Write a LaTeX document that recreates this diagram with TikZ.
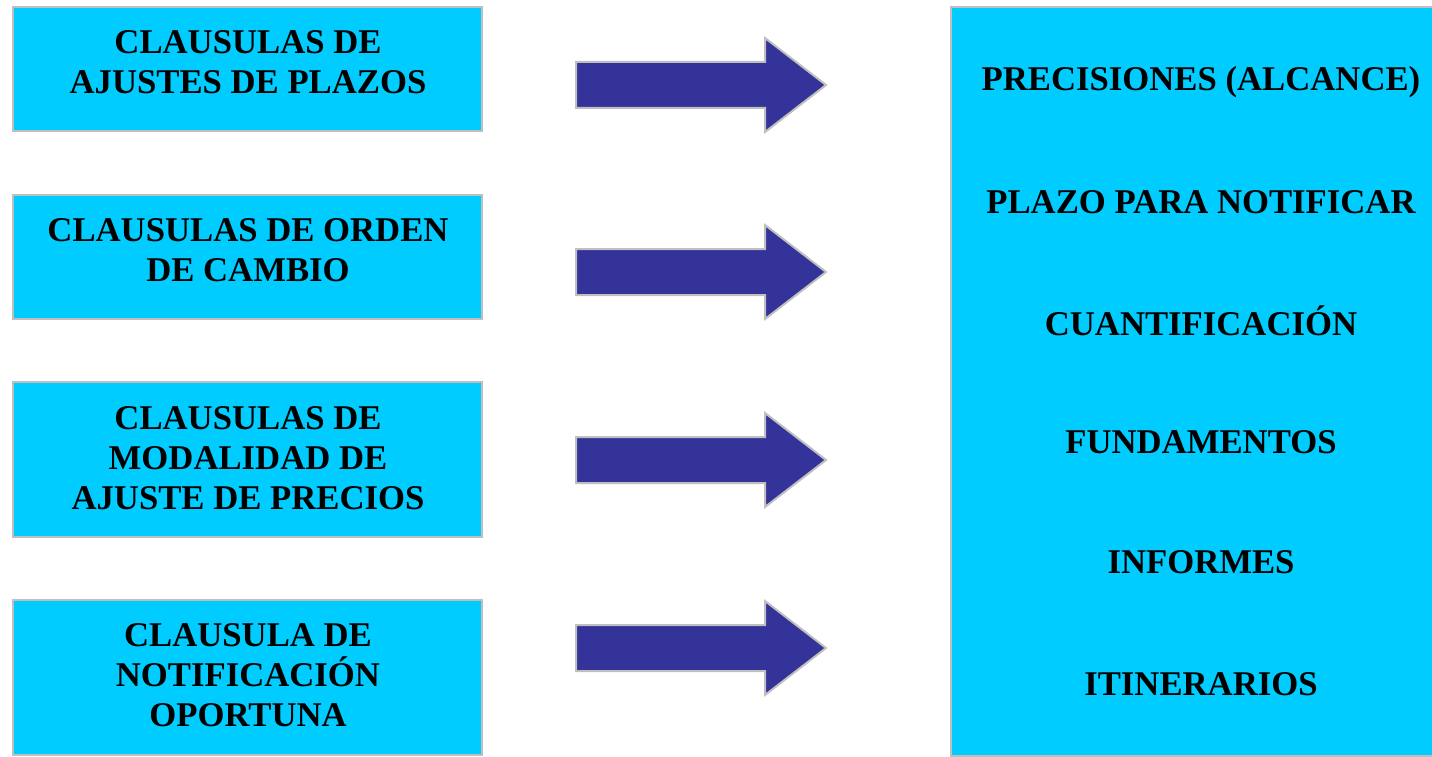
\documentclass[tikz,border=0pt]{standalone}
\usepackage{fontspec}
\setmainfont{Liberation Serif}
\usetikzlibrary{calc}
\definecolor{boxcyan}{HTML}{00CCFF}
\definecolor{arrowblue}{HTML}{333399}
\definecolor{edgegray}{HTML}{BFBFBF}
\tikzset{
  clausebox/.style={draw=edgegray, line width=2pt, fill=boxcyan},
  boxtext/.style={font=\fontsize{34.7}{40}\selectfont\bfseries, align=center, inner sep=0pt},
  blockarrow/.style={draw=edgegray, line width=2pt, fill=arrowblue, line join=miter},
}
\begin{document}
\begin{tikzpicture}[x=1pt,y=-1pt]
\useasboundingbox (0,0) rectangle (1432,757);
% left boxes
\draw[clausebox] (13,7) rectangle (482,131);
\draw[clausebox] (13,195) rectangle (482,319);
\draw[clausebox] (13,382) rectangle (482,537);
\draw[clausebox] (13,600) rectangle (482,755);
\node[boxtext] (c1) at (248,62) {CLAUSULAS DE\\AJUSTES DE PLAZOS};
\node[boxtext] (c2) at (248,250) {CLAUSULAS DE ORDEN\\DE CAMBIO};
\node[boxtext] (c3) at (248,458) {CLAUSULAS DE\\MODALIDAD DE\\AJUSTE DE PRECIOS};
\node[boxtext] (c4) at (248,675) {CLAUSULA DE\\NOTIFICACIÓN\\OPORTUNA};
% right box
\draw[clausebox] (951,7) rectangle (1445,756);
\node[boxtext] (r1) at (1201,82) {PRECISIONES (ALCANCE)};
\node[boxtext] (r2) at (1201,202) {PLAZO PARA NOTIFICAR};
\node[boxtext] (r3) at (1201,321) {CUANTIFICACIÓN};
\node[boxtext] (r4) at (1201,442) {FUNDAMENTOS};
\node[boxtext] (r5) at (1201,562) {INFORMES};
\node[boxtext] (r6) at (1201,684) {ITINERARIOS};
% block arrows
\foreach \n/\yc in {1/85,2/272,3/460,4/648}{
  \coordinate (a\n) at (576,\yc);
  \draw[blockarrow] ($(a\n)+(0,-23)$) -- ++(189,0) -- ++(0,-24) -- ($(a\n)+(250,0)$)
    -- ($(a\n)+(189,47)$) -- ++(0,-24) -- ($(a\n)+(0,23)$) -- cycle;
}
\end{tikzpicture}
\end{document}
